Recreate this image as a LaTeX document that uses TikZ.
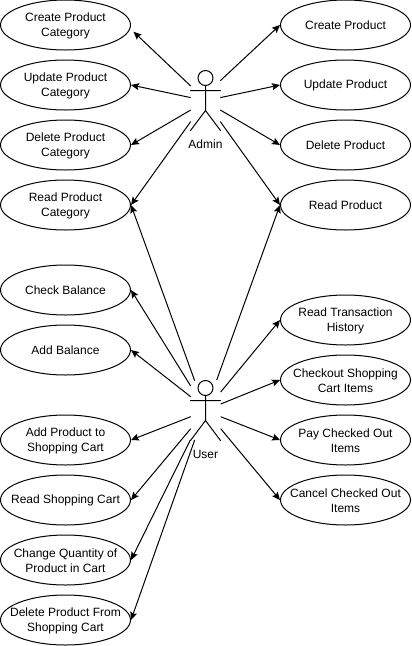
\documentclass[tikz,border=0pt]{standalone}
\usepackage{fontspec}
\setmainfont{Liberation Sans}
\usetikzlibrary{arrows.meta,shapes.geometric}
\tikzset{
  usecase/.style={ellipse,draw=black,line width=1pt,minimum width=130pt,minimum height=50pt,inner sep=0pt},
  uctext/.style={inner sep=0pt,align=center,yshift=-1pt,font=\fontsize{12}{15}\selectfont},
  uctextone/.style={inner sep=0pt,align=center,font=\fontsize{12}{15}\selectfont},
  conn/.style={line width=1pt,-{Stealth[length=8pt,width=7pt,inset=1.5pt]}},
  actorline/.style={line width=1pt,line cap=round},
  actorlabel/.style={inner sep=0pt,font=\fontsize{12}{15}\selectfont}
}
\begin{document}
\begin{tikzpicture}[x=1pt,y=-1pt]
\useasboundingbox (0,0) rectangle (412,646);
% left column
\node[usecase,label={[uctext]center:{Create Product\\Category}}] (lc1) at (65.5,25) {};
\node[usecase,label={[uctext]center:{Update Product\\Category}}] (lc2) at (65.5,85) {};
\node[usecase,label={[uctext]center:{Delete Product\\Category}}] (lc3) at (65.5,145) {};
\node[usecase,label={[uctext]center:{Read Product\\Category}}] (lc4) at (65.5,205) {};
\node[usecase,label={[uctextone]center:{Check Balance}}] (lb1) at (65.5,290) {};
\node[usecase,label={[uctextone]center:{Add Balance}}] (lb2) at (65.5,350) {};
\node[usecase,label={[uctext]center:{Add Product to\\Shopping Cart}}] (ls1) at (65.5,440) {};
\node[usecase,label={[uctextone]center:{Read Shopping Cart}}] (ls2) at (65.5,500) {};
\node[usecase,label={[uctext]center:{Change Quantity of\\Product in Cart}}] (ls3) at (65.5,560) {};
\node[usecase,label={[uctext]center:{Delete Product From\\Shopping Cart}}] (ls4) at (65.5,620) {};
% right column
\node[usecase,label={[uctextone]center:{Create Product}}] (rp1) at (345.5,25) {};
\node[usecase,label={[uctextone]center:{Update Product}}] (rp2) at (345.5,85) {};
\node[usecase,label={[uctextone]center:{Delete Product}}] (rp3) at (345.5,145) {};
\node[usecase,label={[uctextone]center:{Read Product}}] (rp4) at (345.5,205) {};
\node[usecase,label={[uctext]center:{Read Transaction\\History}}] (rt1) at (345.5,320) {};
\node[usecase,label={[uctext]center:{Checkout Shopping\\Cart Items}}] (rt2) at (345.5,380) {};
\node[usecase,label={[uctext]center:{Pay Checked Out\\Items}}] (rt3) at (345.5,440) {};
\node[usecase,label={[uctext]center:{Cancel Checked Out\\Items}}] (rt4) at (345.5,500) {};
% admin actor
\node[circle,draw=black,line width=1pt,minimum size=15pt,inner sep=0pt] (ahead) at (205.5,78) {};
\coordinate (ahip) at (205.5,110.5);
\coordinate (aarmL) at (190.5,90.5);
\coordinate (aarmR) at (220.5,90.5);
\coordinate (alegL) at (190.5,130.5);
\coordinate (alegR) at (220.5,130.5);
\draw[actorline] (ahead.south) -- (ahip) (aarmL) -- (aarmR) (alegL) -- (ahip) -- (alegR);
\node[actorlabel] (alabel) at (205.5,144) {Admin};
% user actor
\node[circle,draw=black,line width=1pt,minimum size=15pt,inner sep=0pt] (uhead) at (205.5,388) {};
\coordinate (uhip) at (205.5,420.5);
\coordinate (uarmL) at (190.5,400.5);
\coordinate (uarmR) at (220.5,400.5);
\coordinate (ulegL) at (190.5,440.5);
\coordinate (ulegR) at (220.5,440.5);
\draw[actorline] (uhead.south) -- (uhip) (uarmL) -- (uarmR) (ulegL) -- (uhip) -- (ulegR);
\node[actorlabel] (ulabel) at (205.5,454) {User};
% connector start points
\coordinate (a1) at (190.7,86);
\coordinate (a2) at (190.7,97.6);
\coordinate (a3) at (190.7,110);
\coordinate (a4) at (190.7,121.6);
\coordinate (a5) at (220.3,80.7);
\coordinate (a6) at (220.3,97.6);
\coordinate (a7) at (220.3,110);
\coordinate (a8) at (220.3,121.6);
\coordinate (u1) at (194.7,380.7);
\coordinate (u2) at (190.7,386);
\coordinate (u3) at (190.7,396.7);
\coordinate (u4) at (190.7,416.7);
\coordinate (u5) at (190.7,428.7);
\coordinate (u6) at (190.3,440);
\coordinate (u7) at (194.7,440);
\coordinate (u8) at (216.7,380);
\coordinate (u9) at (220.7,392);
\coordinate (u10) at (220.7,404);
\coordinate (u11) at (220.7,416.7);
\coordinate (u12) at (220.7,428.7);
% admin connectors
\draw[conn] (a1) -- ([xshift=2.5pt,yshift=-6.7pt]lc1.east);
\draw[conn] (a2) -- (lc2.east);
\draw[conn] (a3) -- (lc3.east);
\draw[conn] (a4) -- (lc4.east);
\draw[conn] (a5) -- (rp1.west);
\draw[conn] (a6) -- (rp2.west);
\draw[conn] (a7) -- (rp3.west);
\draw[conn] (a8) -- (rp4.west);
% user connectors
\draw[conn] (u1) -- (lc4.east);
\draw[conn] (u2) -- (lb1.east);
\draw[conn] (u3) -- (lb2.east);
\draw[conn] (u4) -- (ls1.east);
\draw[conn] (u5) -- (ls2.east);
\draw[conn] (u6) -- (ls3.east);
\draw[conn] (u7) -- (ls4.east);
\draw[conn] (u8) -- (rp4.west);
\draw[conn] (u9) -- (rt1.west);
\draw[conn] (u10) -- (rt2.west);
\draw[conn] (u11) -- (rt3.west);
\draw[conn] (u12) -- (rt4.west);
\end{tikzpicture}
\end{document}
